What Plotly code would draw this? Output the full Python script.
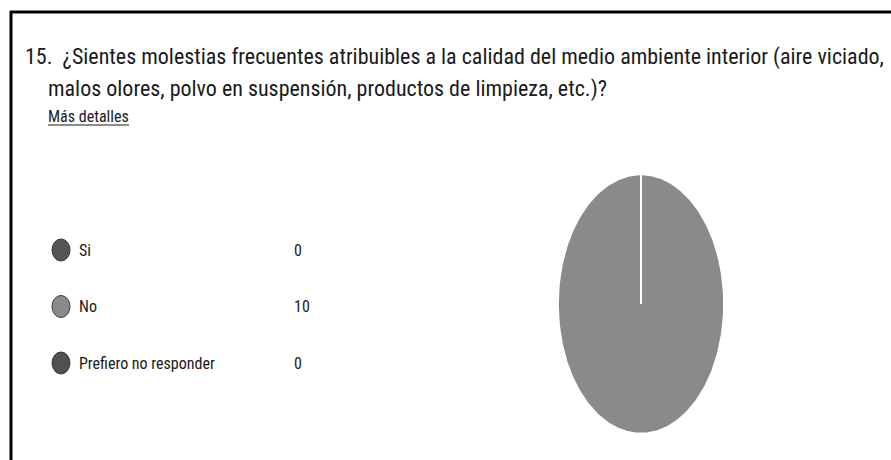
import numpy as np
import plotly.graph_objects as go

categories = ["Si", "No", "Prefiero no responder"]
counts = [0, 10, 0]
colors = ["#555555", "#8a8a8a", "#505050"]
title_lines = [
    "15.  ¿Sientes molestias frecuentes atribuibles a la calidad del medio ambiente interior (aire viciado,",
    "malos olores, polvo en suspensión, productos de limpieza, etc.)?",
]
link_text = "Más detalles"

W, H = 891, 460
FONT = "Roboto Condensed, Liberation Sans Narrow, sans-serif"
TXT = "#1a1a1a"

fig = go.Figure()

# pie wedges (elliptical, as in the stretched screenshot), clockwise from top
total = sum(counts)
start = 90.0
for cat, val, col in zip(categories, counts, colors):
    sweep = 360.0 * val / total
    n = max(2, int(sweep) + 2)
    ang = np.radians(np.linspace(start, start - sweep, n))
    xs = np.concatenate([[0], np.cos(ang), [0]])
    ys = np.concatenate([[0], np.sin(ang), [0]])
    fig.add_trace(go.Scatter(
        x=xs, y=ys, fill="toself", fillcolor=col, mode="lines",
        line=dict(color="white", width=2), name=cat, hoverinfo="name",
        xaxis="x", yaxis="y", showlegend=False))
    start -= sweep

def px(x):
    return x / W

def py(y):
    return 1 - y / H

annotations = []
annotations.append(dict(text=title_lines[0], x=px(23), y=py(57), xref="paper", yref="paper",
                        xanchor="left", yanchor="middle", showarrow=False,
                        font=dict(family=FONT, size=22, color=TXT)))
annotations.append(dict(text=title_lines[1], x=px(46), y=py(89), xref="paper", yref="paper",
                        xanchor="left", yanchor="middle", showarrow=False,
                        font=dict(family=FONT, size=22, color=TXT)))
annotations.append(dict(text=link_text, x=px(46), y=py(117), xref="paper", yref="paper",
                        xanchor="left", yanchor="middle", showarrow=False,
                        font=dict(family=FONT, size=16, color=TXT)))

shapes = []
row0, step = 250, 56.5
for i, (cat, val, col) in enumerate(zip(categories, counts, colors)):
    yc = row0 + i * step
    shapes.append(dict(type="circle", xref="paper", yref="paper",
                       x0=px(52), x1=px(70), y0=py(yc - 11), y1=py(yc + 11),
                       fillcolor=col, line=dict(color="#3a3a3a", width=1)))
    annotations.append(dict(text=cat, x=px(77), y=py(yc), xref="paper", yref="paper",
                            xanchor="left", yanchor="middle", showarrow=False,
                            font=dict(family=FONT, size=16, color=TXT)))
    annotations.append(dict(text=str(val), x=px(292), y=py(yc), xref="paper", yref="paper",
                            xanchor="left", yanchor="middle", showarrow=False,
                            font=dict(family=FONT, size=16, color=TXT)))

# underline for link
shapes.append(dict(type="line", xref="paper", yref="paper", x0=px(48), x1=px(129),
                   y0=py(125), y1=py(125), line=dict(color=TXT, width=1)))
# frame
shapes.append(dict(type="line", xref="paper", yref="paper", x0=px(11), x1=px(11),
                   y0=py(11), y1=py(460), line=dict(color="black", width=3)))
shapes.append(dict(type="line", xref="paper", yref="paper", x0=px(10), x1=px(891),
                   y0=py(12), y1=py(12), line=dict(color="black", width=3)))

fig.update_layout(
    width=W, height=H,
    margin=dict(l=0, r=0, t=0, b=0),
    paper_bgcolor="white", plot_bgcolor="white",
    xaxis=dict(domain=[px(557), px(725)], range=[-1.01, 1.01], visible=False, fixedrange=True),
    yaxis=dict(domain=[py(435), py(173)], range=[-1.01, 1.01], visible=False, fixedrange=True),
    annotations=annotations, shapes=shapes, showlegend=False,
)

fig.write_html("out.html", post_script="document.body.style.margin='0';",
               config={"displayModeBar": False})
